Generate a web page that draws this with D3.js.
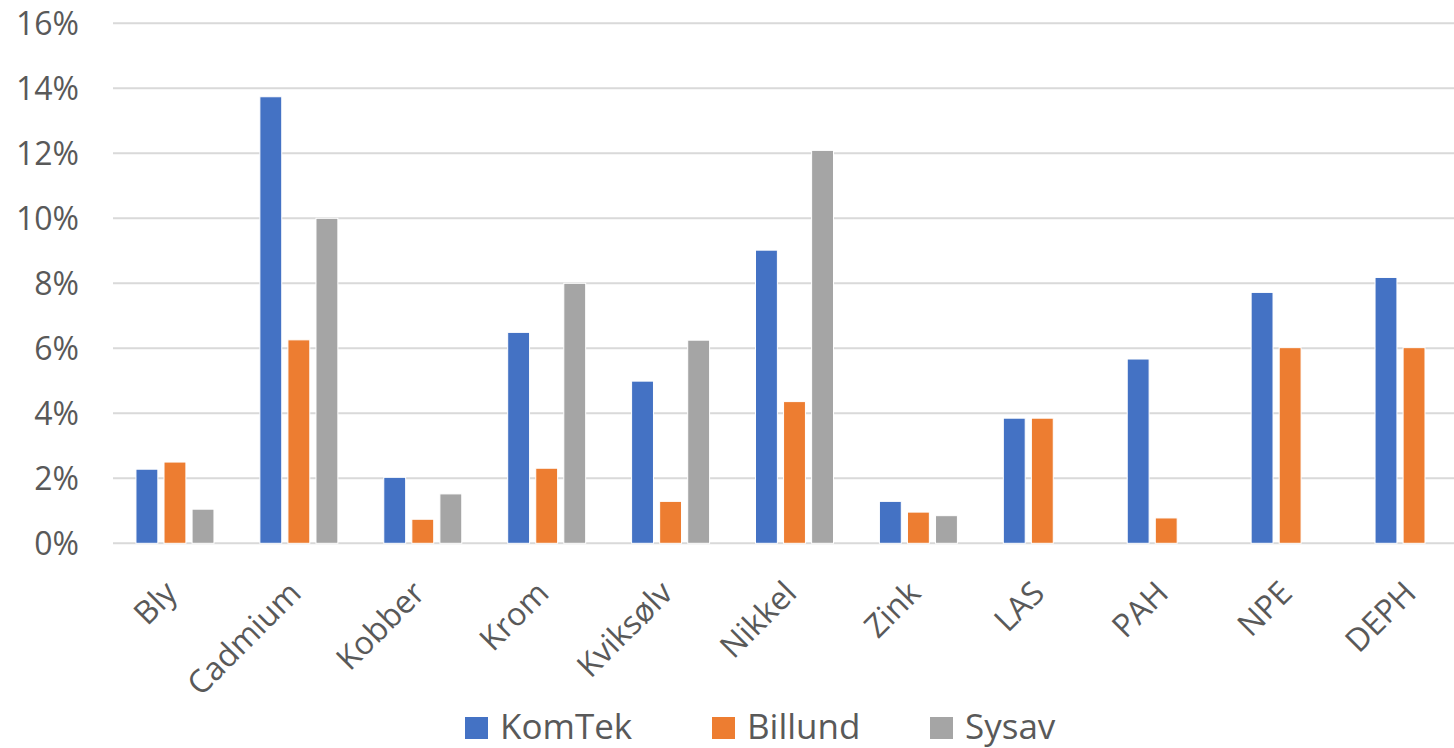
<!DOCTYPE html>
<html>
<head>
<meta charset="utf-8">
<script src="https://cdn.jsdelivr.net/npm/d3@7"></script>
<style>
  body { margin: 0; background: #fff; }
  svg { display: block; font-family: "Open Sans", sans-serif; }
</style>
</head>
<body>
<div id="chart"></div>
<script>
// categories along the x axis
let categories = ['Bly', 'Cadmium', 'Kobber', 'Krom', 'Kviksølv', 'Nikkel', 'Zink', 'LAS', 'PAH', 'NPE', 'DEPH']
let seriesNames = ['KomTek', 'Billund', 'Sysav']

// values in percent (null = no bar)
let komtek  = [2.28, 13.74, 2.03, 6.49, 4.99, 9.02, 1.29, 3.85, 5.67, 7.72, 8.18]
let billund = [2.50, 6.26, 0.74, 2.31, 1.29, 4.36, 0.96, 3.85, 0.78, 6.02, 6.02]
let sysav   = [1.05, 10.0, 1.52, 8.0, 6.25, 12.09, 0.85, null, null, null, null]

let yTicks = [0, 2, 4, 6, 8, 10, 12, 14, 16]
let colors = ['#4472C4', '#ED7D31', '#A5A5A5']

let width = 1454, height = 748
let svg = d3.select('#chart').append('svg')
    .attr('width', width)
    .attr('height', height)

let seriesValues = [komtek, billund, sysav]

// plot spans past the right edge, like the cropped original
let x0 = d3.scaleBand().domain(categories).range([113, 1476])
let x1 = d3.scaleBand().domain(seriesNames).range([-39, 39]).paddingInner(0.22)
let y = d3.scaleLinear().domain([0, 16]).range([543.3, 23.3])

// gridlines
svg.append('g')
    .selectAll('line')
    .data(yTicks)
    .enter()
    .append('line')
    .attr('x1', 113)
    .attr('x2', width)
    .attr('y1', d => y(d))
    .attr('y2', d => y(d))
    .attr('stroke', '#d9d9d9')
    .attr('stroke-width', 2)

// y axis labels
let yAxis = d3.axisLeft(y).tickValues(yTicks).tickFormat(d => d + '%').tickSize(0).tickPadding(0)
let yAxisG = svg.append('g')
    .attr('transform', 'translate(79,0)')
    .call(yAxis)
yAxisG.select('.domain').remove()
yAxisG.selectAll('text')
    .attr('font-size', 32)
    .attr('font-family', '"Open Sans", sans-serif')
    .attr('fill', '#595959')
    .attr('dy', '0.35em')

// flatten into one row per bar
let bars = []
categories.forEach((c, i) => {
    seriesNames.forEach((s, j) => {
        let v = seriesValues[j][i]
        if (v != null) bars.push({ cat: c, series: s, value: v, color: colors[j] })
    })
})

svg.append('g')
    .selectAll('rect')
    .data(bars)
    .enter()
    .append('rect')
    .attr('x', d => x0(d.cat) + x0.bandwidth() / 2 + x1(d.series))
    .attr('width', x1.bandwidth())
    .attr('y', d => y(d.value))
    .attr('height', d => y(0) - y(d.value))
    .attr('fill', d => d.color)
    .attr('stroke', '#fff')
    .attr('stroke-width', 1)

// rotated category labels
svg.append('g')
    .selectAll('text')
    .data(categories)
    .enter()
    .append('text')
    .attr('transform', d => `translate(${x0(d) + x0.bandwidth() / 2 + 4},595) rotate(-45)`)
    .attr('text-anchor', 'end')
    .attr('font-size', 32)
    .attr('fill', '#595959')
    .text(d => d)

// legend
let legendX = [465, 712, 930]
let legend = svg.append('g')
    .selectAll('g')
    .data(seriesNames)
    .enter()
    .append('g')
    .attr('transform', (d, i) => `translate(${legendX[i]},717)`)
legend.append('rect')
    .attr('width', 23)
    .attr('height', 22)
    .attr('fill', (d, i) => colors[i])
legend.append('text')
    .attr('x', 35)
    .attr('y', 22)
    .attr('font-size', 35)
    .attr('fill', '#595959')
    .text(d => d)
</script>
</body>
</html>
